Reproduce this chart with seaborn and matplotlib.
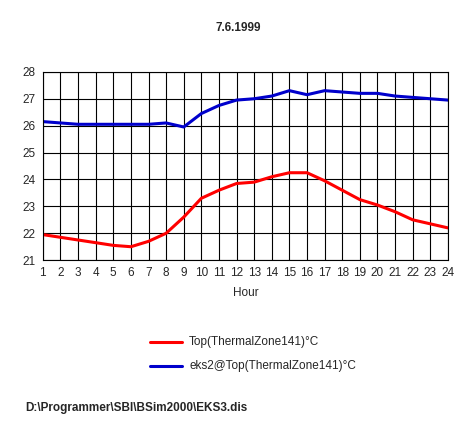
import matplotlib
matplotlib.use('Agg')
import matplotlib.pyplot as plt
import seaborn as sns
import pandas as pd

hours = list(range(1, 25))
top_zone = [21.95, 21.85, 21.75, 21.65, 21.55, 21.5, 21.7, 22.0, 22.6, 23.3, 23.6, 23.85,
            23.9, 24.1, 24.25, 24.25, 23.95, 23.6, 23.25, 23.05, 22.8, 22.5, 22.35, 22.2]
eks2_zone = [26.15, 26.1, 26.05, 26.05, 26.05, 26.05, 26.05, 26.1, 25.95, 26.45, 26.75, 26.95,
             27.0, 27.1, 27.3, 27.15, 27.3, 27.25, 27.2, 27.2, 27.1, 27.05, 27.0, 26.95]
labels = ['Top(ThermalZone141)°C', 'eks2@Top(ThermalZone141)°C']

df = pd.DataFrame({'Hour': hours * 2, 'value': top_zone + eks2_zone,
                   'series': [labels[0]] * 24 + [labels[1]] * 24})

sns.set_style('white')
plt.rcParams['font.family'] = ['Liberation Sans', 'DejaVu Sans']
plt.rcParams['font.size'] = 8.5

fig = plt.figure(figsize=(4.76, 4.38), dpi=100)
ax = fig.add_axes([0.090, 0.406, 0.851, 0.430])
sns.lineplot(data=df, x='Hour', y='value', hue='series', palette=['#ff0000', '#0000cc'],
             linewidth=2.2, ax=ax, legend=False)
ax.set_xlim(1, 24)
ax.set_ylim(21, 28)
ax.set_xticks(hours)
ax.set_yticks(range(21, 29))
ax.grid(True, color='black', linewidth=0.8)
for s in ax.spines.values():
    s.set_color('black')
    s.set_linewidth(0.8)
ax.tick_params(length=3, color='black', labelsize=8.5, pad=2)
ax.set_xlabel('Hour', fontsize=8.5, labelpad=6)
ax.set_ylabel('')
fig.text(0.5, 0.93, '7.6.1999', ha='center', fontsize=8.5, fontweight='bold')

for i, (lab, col) in enumerate(zip(labels, ['#ff0000', '#0000cc'])):
    y = 1 - (342 + 24 * i) / 438
    fig.add_artist(plt.Line2D([150 / 476, 182 / 476], [y, y], color=col, linewidth=2.2))
    fig.text(189 / 476, y, lab, va='center', fontsize=8.5)

fig.text(25 / 476, 1 - 408 / 438, r'D:\Programmer\SBI\BSim2000\EKS3.dis', va='center',
         fontsize=8.5, fontweight='bold')
fig.savefig('out.png', dpi=100)
